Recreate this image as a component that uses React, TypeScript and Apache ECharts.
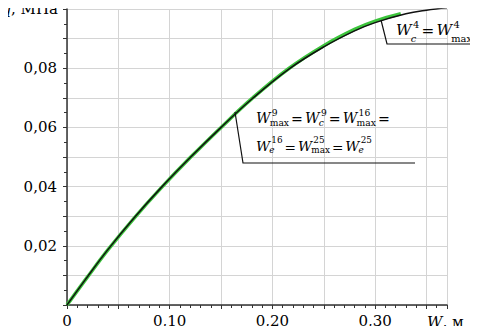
import React, { useEffect, useRef } from "react";
import * as echarts from "echarts";

const wBlack = [0, 0.02, 0.04, 0.065, 0.091, 0.12, 0.15, 0.18, 0.216, 0.25, 0.28, 0.3, 0.33, 0.35, 0.37];
const qBlack = [0, 0.0096, 0.0188, 0.0293, 0.0394, 0.0498, 0.06, 0.0696, 0.0797, 0.0872, 0.0926, 0.0954, 0.0984, 0.0996, 0.1004];
const wGreen = [0, 0.02, 0.04, 0.065, 0.091, 0.12, 0.15, 0.18, 0.216, 0.25, 0.28, 0.3, 0.325];
const qGreen = [0, 0.0095, 0.0187, 0.0292, 0.0393, 0.0498, 0.06, 0.0697, 0.0799, 0.0876, 0.0931, 0.0959, 0.0984];

const xLabels = ["0", "0,10", "0,20", "0,30"];
const yLabels = ["0,02", "0,04", "0,06", "0,08"];

const FONT = "DejaVu Serif";

type Tok = "=" | [string, string, string];

const formula1Tokens: Tok[] = [["W", "4", "c"], "=", ["W", "4", "max"]];
const formula2Line1: Tok[] = [["W", "9", "max"], "=", ["W", "9", "c"], "=", ["W", "16", "max"], "="];
const formula2Line2: Tok[] = [["W", "16", "e"], "=", ["W", "25", "max"], "=", ["W", "25", "e"]];

let ctx: CanvasRenderingContext2D | null = null;
function mw(text: string, font: string) {
  if (!ctx) ctx = document.createElement("canvas").getContext("2d");
  if (!ctx) return text.length * 8;
  ctx.font = font;
  return ctx.measureText(text).width;
}

function txt(t: string, x: number, y: number, font: string, va: string = "middle") {
  return {
    type: "text",
    x,
    y,
    silent: true,
    z: 20,
    style: { text: t, font, fill: "#000", textAlign: "left", textVerticalAlign: va, verticalAlign: va },
  };
}

function buildFormula(tokens: Tok[], x0: number, y: number, target: number, supDy: number, subDy: number) {
  const layout = (k: number) => {
    const B = 17 * k;
    const S = 11 * k;
    const fB = `${B}px ${FONT}`;
    const fBi = `italic ${B}px ${FONT}`;
    const fS = `${S}px ${FONT}`;
    const fSi = `italic ${S}px ${FONT}`;
    let x = x0;
    const els: any[] = [];
    tokens.forEach((tok) => {
      if (tok === "=") {
        x += 2.5 * k;
        els.push(txt("=", x, y + 1, fB));
        x += mw("=", fB) + 2.5 * k;
      } else {
        const [base, sup, sub] = tok;
        els.push(txt(base, x, y, fBi));
        x += mw(base, fBi);
        const subFont = sub.length === 1 ? fSi : fS;
        els.push(txt(sup, x + 1.5 * k, y + supDy * k, fS));
        els.push(txt(sub, x - 1 * k, y + subDy * k, subFont));
        x += Math.max(mw(sup, fS) + 1.5 * k, mw(sub, subFont) - 1 * k);
      }
    });
    return { els, w: x - x0 };
  };
  const first = layout(1);
  const k = Math.max(0.7, Math.min(1.15, target / first.w));
  return layout(k).els;
}

function axisName(italicPart: string, rest: string, x: number, y: number, alignRight: boolean) {
  const f = `15px ${FONT}`;
  const fi = `italic 15px ${FONT}`;
  const wi = mw(italicPart, fi);
  const wr = mw(rest, f);
  const left = alignRight ? x - wi - wr : x;
  return [txt(italicPart, left, y, fi, "top"), txt(rest, left + wi, y, f, "top")];
}

export default function App() {
  const ref = useRef<HTMLDivElement>(null);
  useEffect(() => {
    if (!ref.current) return;
    const chart = echarts.init(ref.current, null, { renderer: "svg" });
    const black = wBlack.map((w, i) => [w, qBlack[i]]);
    const green = wGreen.map((w, i) => [w, qGreen[i]]);
    chart.setOption({
      animation: false,
      backgroundColor: "#fff",
      textStyle: { fontFamily: FONT },
      grid: { left: 67, right: 31, top: 9, bottom: 29, containLabel: false },
      xAxis: {
        type: "value",
        min: 0,
        max: 0.37,
        interval: 0.05,
        axisLine: { show: true, onZero: false, lineStyle: { color: "#333", width: 1.5 } },
        axisTick: { show: true, length: 4, lineStyle: { color: "#333" } },
        minorTick: { show: true, splitNumber: 5, length: 3, lineStyle: { color: "#333" } },
        splitLine: { show: true, lineStyle: { color: "#d4d4d4", width: 1 } },
        axisLabel: {
          fontFamily: FONT,
          fontSize: 15,
          color: "#000",
          margin: 8,
          formatter: (v: number) => {
            const k = Math.round(v * 100);
            if (k % 10 !== 0) return "";
            return xLabels[k / 10] ?? "";
          },
        },
      },
      yAxis: {
        type: "value",
        min: 0,
        max: 0.1,
        interval: 0.01,
        axisLine: { show: true, lineStyle: { color: "#333", width: 1.5 } },
        axisTick: { show: true, length: 4, lineStyle: { color: "#333" } },
        minorTick: { show: true, splitNumber: 2, length: 3, lineStyle: { color: "#333" } },
        splitLine: { show: true, lineStyle: { color: "#d4d4d4", width: 1 } },
        axisLabel: {
          fontFamily: FONT,
          fontSize: 15,
          color: "#000",
          margin: 10,
          formatter: (v: number) => {
            const k = Math.round(v * 100);
            if (k === 0 || k % 2 !== 0 || k >= 10) return "";
            return yLabels[k / 2 - 1] ?? "";
          },
        },
      },
      series: [
        {
          type: "line",
          data: green,
          smooth: 0.4,
          showSymbol: false,
          lineStyle: { color: "#3cc43c", width: 3.5 },
          z: 2,
        },
        {
          type: "line",
          data: black,
          smooth: 0.4,
          showSymbol: false,
          lineStyle: { color: "#111", width: 1.5 },
          z: 3,
        },
      ],
      graphic: [
        ...axisName("q", ", МПа", 58, 1, true),
        ...axisName("W", ", м", 427, 314, false),
        {
          type: "polyline",
          shape: { points: [[381, 20], [387, 44], [475, 44]] },
          style: { stroke: "#111", lineWidth: 1.2, fill: null },
          z: 10,
        },
        {
          type: "polyline",
          shape: { points: [[235, 112], [243, 163], [415, 163]] },
          style: { stroke: "#111", lineWidth: 1.2, fill: null },
          z: 10,
        },
        ...buildFormula(formula1Tokens, 396, 30, 76, -6, 10),
        ...buildFormula(formula2Line1, 256, 118, 136, -7, 5),
        ...buildFormula(formula2Line2, 256, 146, 116, -7, 5),
      ],
    });
    return () => chart.dispose();
  }, []);
  return <div ref={ref} style={{ width: 478, height: 334, margin: -8 }} />;
}
